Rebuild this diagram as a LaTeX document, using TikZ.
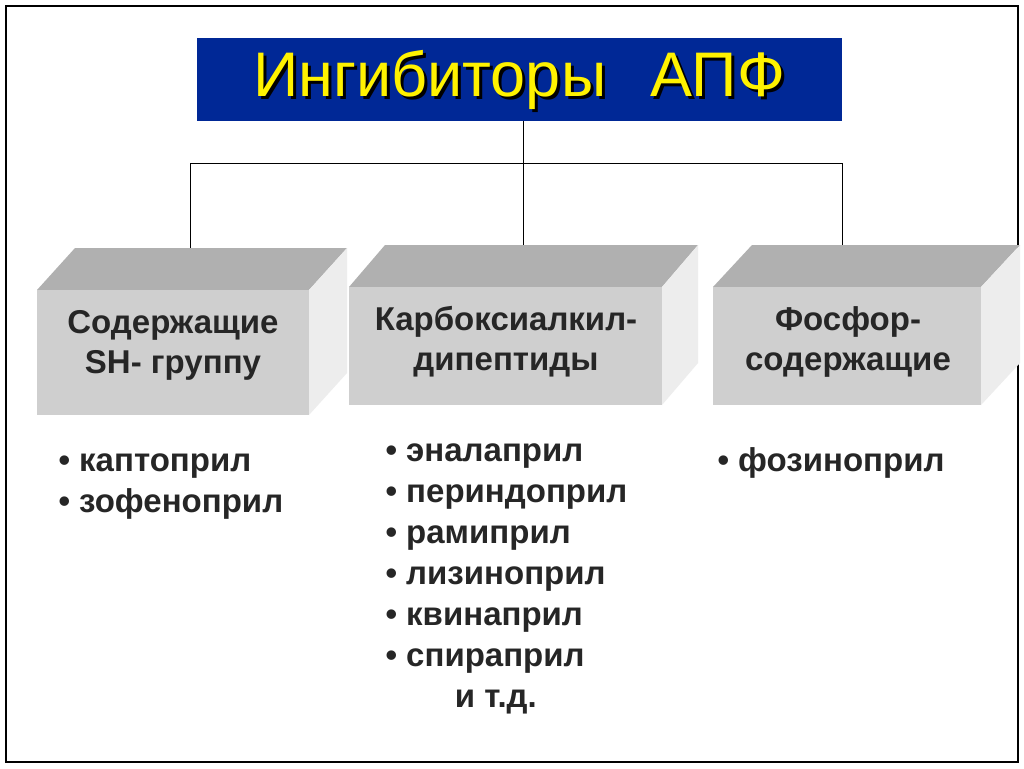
\documentclass[tikz,border=0pt]{standalone}
\usepackage{fontspec}
\setmainfont{Liberation Sans}
\begin{document}
\begin{tikzpicture}[x=1pt,y=-1pt,
	front/.style={fill=gray!38},
	topface/.style={fill=gray!62},
	sideface/.style={fill=gray!14},
	boxtext/.style={font=\fontsize{33}{40}\selectfont\bfseries,align=center,text=black!85},
	item/.style={font=\fontsize{33}{41}\selectfont\bfseries,align=left,anchor=north west,text=black!85}]
	\useasboundingbox (0,0) rectangle (1024,768);
	\fill[white] (0,0) rectangle (1024,768);
	\draw[line width=1.5pt] (6,6) rectangle (1018,762);
	
	% title
	\fill[fill={rgb,255:red,0;green,40;blue,150}] (197,38) rectangle (842,121);
	\node (titleshadow) at (522,83) {\fontsize{63}{66}\selectfont\color{black}Ингибиторы\hspace{0.7em}АПФ};
	\node (title) at (519,80) {\fontsize{63}{66}\selectfont\color{yellow}Ингибиторы\hspace{0.7em}АПФ};
	
	% connectors
	\coordinate (t) at (523,121);
	\coordinate (j) at (523,163);
	\coordinate (l) at (190,163);
	\coordinate (r) at (842,163);
	\draw (t) -- (j);
	\draw (l) -- (r);
	\draw (l) -- (190,248);
	\draw (j) -- (523,246);
	\draw (r) -- (842,246);
	
	% boxes
	\foreach \xa/\xb/\ya/\yb/\d/\nm in {37/309/290/415/38/a, 349/662/287/405/36/b, 713/981/287/405/39/c}{
		\fill[topface] (\xa,\ya) -- (\xb,\ya) -- ++(\d,-42) -- (\xa+\d,\ya-42) -- cycle;
		\fill[sideface] (\xb,\ya) -- ++(\d,-42) -- (\xb+\d,\yb-42) -- (\xb,\yb) -- cycle;
		\fill[front] (\xa,\ya) rectangle (\xb,\yb);
		\coordinate (\nm) at ({(\xa+\xb)/2},{(\ya+\yb)/2});
	}
	\node[boxtext] (ta) at (173,345) {Содержащие\\SH- группу};
	\node[boxtext] (tb) at (506,342) {Карбоксиалкил-\\дипептиды};
	\node[boxtext] (tc) at (848,342) {Фосфор-\\содержащие};
	
	% lists
	\node[item] (la) at (55,450) {• каптоприл\\• зофеноприл};
	\node[item] (lb) at (382,440) {• эналаприл\\• периндоприл\\• рамиприл\\• лизиноприл\\• квинаприл\\• спираприл\\\hspace{2.1em}и т.д.};
	\node[item] (lc) at (714,444) {• фозиноприл};
\end{tikzpicture}
\end{document}
